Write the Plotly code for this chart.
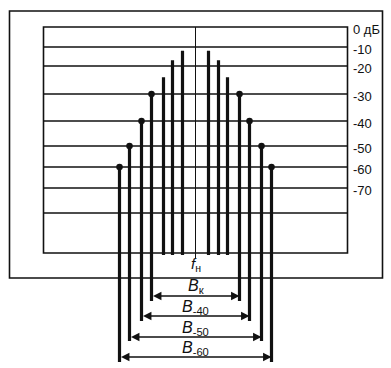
import numpy as np
import plotly.graph_objects as go

# ---- data -------------------------------------------------------------
# spectral line frequency offsets from the carrier (arbitrary units)
line_freq = [-76, -66, -54, -44, -32, -23, -13, 13, 23, 32, 44, 54, 66, 76]
# spectral line levels, dB
line_level = [-60, -50, -40, -30, -24, -17, -12, -12, -17, -24, -30, -40, -50, -60]
# levels whose lines end with a dot
dot_levels = [-30, -40, -50, -60]

# grid levels of the schematic dB scale and their tick labels
grid_db = [0, -10, -20, -30, -40, -50, -60, -70, -80, -90]
grid_labels = ["0 дБ", "-10", "-20", "-30", "-40", "-50", "-60", "-70", "", ""]

# bandwidth brackets: label and the level of the lines bounding them
band_labels = ["<i>B</i><sub>к</sub>", "<i>B</i><sub>-40</sub>",
               "<i>B</i><sub>-50</sub>", "<i>B</i><sub>-60</sub>"]
band_levels = [-30, -40, -50, -60]
carrier_label = "<i>f</i><sub>н</sub>"

# ---- schematic (non-uniform) vertical scale ---------------------------
GRID_POS = [0, 20, 39, 67, 94, 119, 140, 161, 186, 226]


def disp(db):
    return float(np.interp(-np.asarray(db, dtype=float), [-g for g in grid_db], GRID_POS))


INK = "#111111"
BOX_L, BOX_R = -152, 152
BOX_T, BOX_B = disp(0), disp(-90)
band_y = [269, 289, 310, 330]      # arrow rows under the plot
band_label_y = [259, 280, 301, 321]
band_bottom = [274, 294, 314, 335]

fig = go.Figure()

# outer frame and inner plot frame
fig.add_shape(type="rect", x0=-186, x1=187, y0=-16, y1=251,
              line=dict(color=INK, width=1.6), layer="below")
fig.add_shape(type="rect", x0=BOX_L, x1=BOX_R, y0=BOX_T, y1=BOX_B,
              line=dict(color=INK, width=1.6), layer="below")

# horizontal grid lines
gx, gy = [], []
for db in grid_db[1:-1]:
    gx += [BOX_L, BOX_R, None]
    gy += [disp(db), disp(db), None]
fig.add_trace(go.Scatter(x=gx, y=gy, mode="lines",
                         line=dict(color=INK, width=1.4), hoverinfo="skip"))

# carrier (centre) line
fig.add_trace(go.Scatter(x=[0, 0], y=[disp(0), 231], mode="lines",
                         line=dict(color=INK, width=1), hoverinfo="skip"))

# spectral lines
bx, by = [], []
for f, lv in zip(line_freq, line_level):
    if lv in band_levels:
        bottom = band_bottom[band_levels.index(lv)]
    else:
        bottom = BOX_B + 2
    bx += [f, f, None]
    by += [disp(lv), bottom, None]
fig.add_trace(go.Scatter(x=bx, y=by, mode="lines",
                         line=dict(color=INK, width=3.2), hoverinfo="skip"))

# dots on the bandwidth-defining lines
dx = [f for f, lv in zip(line_freq, line_level) if lv in dot_levels]
dy = [disp(lv) for lv in line_level if lv in dot_levels]
fig.add_trace(go.Scatter(x=dx, y=dy, mode="markers",
                         marker=dict(color=INK, size=6.5), hoverinfo="skip"))

# right-hand level labels
for db, lab in zip(grid_db, grid_labels):
    if lab:
        fig.add_annotation(x=BOX_R + 4, y=disp(db), text=lab, showarrow=False,
                           xanchor="left", yanchor="middle", yshift=-2,
                           borderpad=0, font=dict(size=13, color=INK))

# carrier label
fig.add_annotation(x=0, y=237, text=carrier_label, showarrow=False,
                   borderpad=0, font=dict(size=15, color=INK))

# bandwidth arrows and labels
for lab, lv, ya, yl in zip(band_labels, band_levels, band_y, band_label_y):
    fr = [f for f, l in zip(line_freq, line_level) if l == lv]
    fig.add_annotation(x=max(fr), y=ya, ax=min(fr), ay=ya, xref="x", yref="y",
                       axref="x", ayref="y", text="", showarrow=True,
                       arrowhead=2, arrowside="end+start", arrowsize=1.3,
                       arrowwidth=1.3, arrowcolor=INK, standoff=0, startstandoff=0)
    fig.add_annotation(x=0, y=yl, text=lab, showarrow=False, borderpad=0,
                       font=dict(size=16, color=INK))

fig.update_layout(
    width=391, height=368, margin=dict(l=0, r=0, t=0, b=0),
    paper_bgcolor="white", plot_bgcolor="white", showlegend=False,
    font=dict(family="Liberation Sans, Arial, sans-serif", color=INK),
    xaxis=dict(range=[-195.5, 195.5], visible=False, fixedrange=True),
    yaxis=dict(range=[341, -27], visible=False, fixedrange=True),
)

fig.write_html("out.html")
